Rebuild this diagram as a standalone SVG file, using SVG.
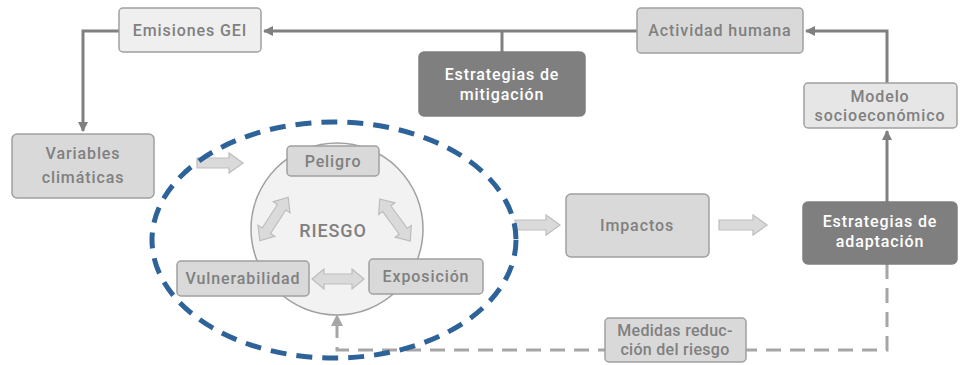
<svg xmlns="http://www.w3.org/2000/svg" width="960" height="365" viewBox="0 0 960 365">
<style>
text{font-family:Roboto,"Liberation Sans",sans-serif;font-size:16px;font-weight:500;text-anchor:middle;letter-spacing:0.9px}
.t{fill:#808080}
.w{fill:#ffffff}
.lb{fill:#efefef;stroke:#a0a0a0;stroke-width:1.5}
.mb{fill:#d9d9d9;stroke:#a0a0a0;stroke-width:1.5}
.db{fill:#7f7f7f;stroke:#7f7f7f;stroke-width:1.5}
.ln{fill:none;stroke:#808080;stroke-width:3}
.dl{fill:none;stroke:#a6a6a6;stroke-width:3;stroke-dasharray:15 9}
.ba{fill:#dadada;stroke:#bdbdbd;stroke-width:1.2}
</style>
<defs>
<marker id="ah" viewBox="0 0 10 10" refX="9" refY="5" markerWidth="3.5" markerHeight="3.5" orient="auto" markerUnits="strokeWidth">
<path d="M0,0 L10,5 L0,10 Z" fill="#808080"/>
</marker>
<path id="dbl" d="M-26,0 L-14,-10 L-14,-5 L14,-5 L14,-10 L26,0 L14,10 L14,5 L-14,5 L-14,10 Z"/>
</defs>

<g id="connectors">
<path class="ln" d="M637,31 L264,31" marker-end="url(#ah)"/>
<path class="ln" d="M502,52 L502,31"/>
<path class="ln" d="M119,31 L83,31 L83,131" marker-end="url(#ah)"/>
<path class="ln" d="M887,83 L887,31 L806,31" marker-end="url(#ah)"/>
<path class="ln" d="M887,202 L887,131" marker-end="url(#ah)"/>
<path class="dl" d="M887,264 L887,350 L337,350 L337,326"/>
<path d="M331,326 L337,314 L343,326 Z" fill="#a6a6a6"/>
<path class="ba" d="M197,158 L229,158 L229,153 L243,163 L229,173 L229,168 L197,168 Z"/>
<path class="ba" d="M515,220 L546,220 L546,215 L560,225 L546,235 L546,230 L515,230 Z"/>
<path class="ba" d="M719,220 L753,220 L753,215 L767,225 L753,235 L753,230 L719,230 Z"/>
</g>

<g id="emisiones"><rect class="lb" x="119" y="8" width="142" height="44" rx="4"/><text class="t" x="190" y="36">Emisiones GEI</text></g>
<g id="actividad"><rect class="mb" x="637" y="8" width="166" height="45" rx="4"/><text class="t" x="720" y="36">Actividad humana</text></g>
<g id="mitigacion"><rect class="db" x="419" y="52" width="166" height="64" rx="5"/><text class="w" x="502" y="80">Estrategias de</text><text class="w" x="502" y="100">mitigación</text></g>
<g id="modelo"><rect x="804" y="83" width="153" height="45" rx="4" fill="#e6e6e6" stroke="#a0a0a0" stroke-width="1.5"/><text class="t" x="880" y="102">Modelo</text><text class="t" x="880" y="121">socioeconómico</text></g>
<g id="variables"><rect class="mb" x="12" y="134" width="142" height="64" rx="5"/><text class="t" x="83" y="159">Variables</text><text class="t" x="83" y="183">climáticas</text></g>

<g id="riesgo">
<circle cx="337" cy="229" r="86" fill="#f2f2f2" stroke="#a0a0a0" stroke-width="1.5"/>
<text class="t" x="333" y="237" style="font-size:18px">RIESGO</text>
<use href="#dbl" class="ba" transform="translate(274,219) rotate(-57)"/>
<use href="#dbl" class="ba" transform="translate(395,220) rotate(54)"/>
<use href="#dbl" class="ba" transform="translate(338,279)"/>
</g>
<g id="peligro"><rect class="mb" x="287" y="146" width="92" height="30" rx="4"/><text class="t" x="333" y="167">Peligro</text></g>
<g id="vulnerabilidad"><rect class="mb" x="177" y="261" width="132" height="35" rx="4"/><text class="t" x="243" y="284">Vulnerabilidad</text></g>
<g id="exposicion"><rect class="mb" x="369" y="259" width="114" height="35" rx="4"/><text class="t" x="426" y="282">Exposición</text></g>

<g id="impactos"><rect class="mb" x="566" y="194" width="143" height="63" rx="5"/><text class="t" x="637" y="231">Impactos</text></g>
<g id="adaptacion"><rect class="db" x="803" y="202" width="154" height="62" rx="5"/><text class="w" x="880" y="227">Estrategias de</text><text class="w" x="880" y="247">adaptación</text></g>
<g id="medidas"><rect class="mb" x="605" y="318" width="141" height="44" rx="4"/><text class="t" x="675" y="336" style="letter-spacing:0.3px">Medidas reduc-</text><text class="t" x="675" y="355" style="letter-spacing:0.3px">ción del riesgo</text></g>

<g id="zona">
<ellipse cx="334" cy="240" rx="182" ry="118" fill="none" stroke="#2e6399" stroke-width="5" stroke-dasharray="16 10"/>
</g>
</svg>
